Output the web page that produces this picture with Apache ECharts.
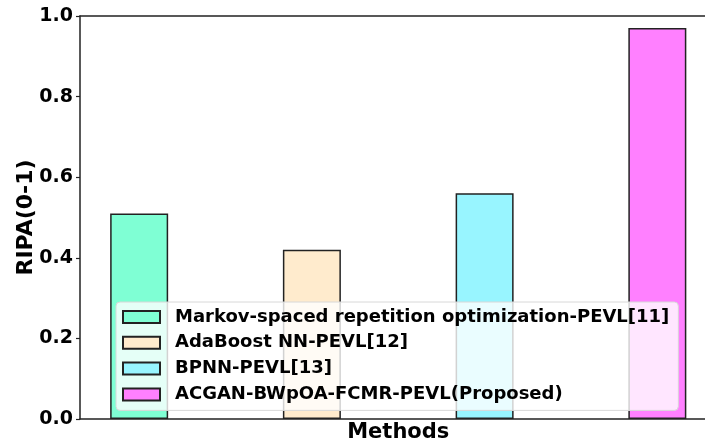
<!DOCTYPE html>
<html>
<head>
<meta charset="utf-8">
<script src="https://cdn.jsdelivr.net/npm/echarts@6/dist/echarts.min.js"></script>
<style>html,body{margin:0;padding:0;background:#fff}#c{width:705px;height:445px}</style>
</head>
<body>
<div id="c"></div>
<script>
const methods = ["Markov-spaced repetition optimization-PEVL[11]", "AdaBoost NN-PEVL[12]", "BPNN-PEVL[13]", "ACGAN-BWpOA-FCMR-PEVL(Proposed)"];
const ripa = [0.51, 0.42, 0.56, 0.97];
const colors = ["#7FFFD4", "#FFEBCD", "#98F5FF", "#FF80FF"];
const yTicks = [0.0, 0.2, 0.4, 0.6, 0.8, 1.0];

const font = "DejaVu Sans";
const chart = echarts.init(document.getElementById('c'));
const series = methods.map((m, i) => ({
  name: m,
  type: 'bar',
  data: [[i, ripa[i]]],
  barWidth: 58,
  barGap: '-100%',
  itemStyle: { color: colors[i], borderColor: '#222', borderWidth: 1.5 },
  emphasis: { disabled: true }
}));
chart.setOption({
  animation: false,
  grid: { left: 80, top: 16, right: -11.5, bottom: 26, containLabel: false, outerBoundsMode: 'none' },
  legend: {
    orient: 'vertical',
    left: 116, top: 302,
    data: methods,
    icon: 'rect',
    itemWidth: 37, itemHeight: 12, itemGap: 7.8,
    padding: [6, 9, 7, 6],
    backgroundColor: 'rgba(255,255,255,0.8)',
    borderColor: '#d8d8d8', borderWidth: 1, borderRadius: 4,
    textStyle: { fontFamily: font, fontWeight: 'bold', fontSize: 18, color: '#000', padding: [0, 0, 0, 10], lineHeight: 18 },
    selectedMode: false
  },
  xAxis: [{
    type: 'value', min: -0.3425, max: 3.3425,
    name: 'Methods', nameLocation: 'middle', nameGap: 3, nameMoveOverlap: false,
    nameTextStyle: { fontFamily: font, fontWeight: 'bold', fontSize: 21, color: '#000' },
    axisLine: { show: true, onZero: false, lineStyle: { color: '#222', width: 1.5 } },
    axisTick: { show: false }, axisLabel: { show: false }, splitLine: { show: false }
  }, {
    type: 'value', position: 'top', min: -0.3425, max: 3.3425,
    axisLine: { show: true, onZero: false, lineStyle: { color: '#222', width: 1.5 } },
    axisTick: { show: false }, axisLabel: { show: false }, splitLine: { show: false }
  }],
  yAxis: {
    type: 'value', min: 0, max: 1, interval: 0.2,
    name: 'RIPA(0-1)', nameLocation: 'middle', nameGap: 43, nameMoveOverlap: false,
    nameTextStyle: { fontFamily: font, fontWeight: 'bold', fontSize: 22, color: '#000' },
    axisLine: { show: true, onZero: false, lineStyle: { color: '#222', width: 1.5 } },
    axisTick: { show: true, length: 4, lineStyle: { color: '#222', width: 1.2 } },
    axisLabel: { fontFamily: font, fontWeight: 'bold', fontSize: 19, color: '#000', margin: 7,
      formatter: v => { const t = yTicks.find(x => Math.abs(x - v) < 1e-9); return (t !== undefined ? t : v).toFixed(1); } },
    splitLine: { show: false }
  },
  series: series
});
</script>
</body>
</html>
